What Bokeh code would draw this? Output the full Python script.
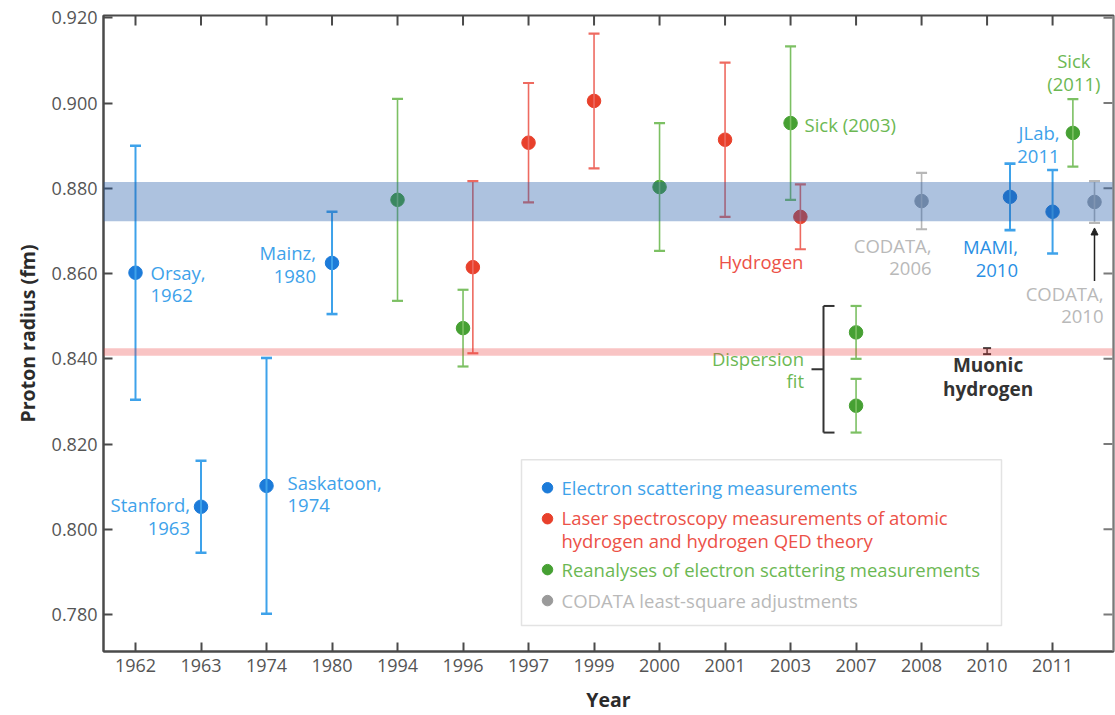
from bokeh.plotting import figure
from bokeh.models import (Range1d, FixedTicker, Whisker, TeeHead, Span,
                          BoxAnnotation, ColumnDataSource, Arrow, NormalHead,
                          PrintfTickFormatter)
from bokeh.embed import file_html
from bokeh.resources import INLINE
from bokeh.core.properties import value

FONT = "Open Sans"

# ---- data ---------------------------------------------------------------
years = ["1962", "1963", "1974", "1980", "1994", "1996", "1997", "1999",
         "2000", "2001", "2003", "2007", "2008", "2010", "2011"]
y_ticks = [0.780, 0.800, 0.820, 0.840, 0.860, 0.880, 0.900, 0.920]

# electron scattering measurements (position on the year axis, radius, error)
es_x = [0, 1, 2, 3, 13.35, 14]
es_r = [0.8602, 0.8053, 0.8102, 0.8625, 0.8780, 0.8745]
es_e = [0.0298, 0.0108, 0.0300, 0.0120, 0.0078, 0.0098]

# laser spectroscopy of atomic hydrogen + QED theory
ls_x = [5.15, 6, 7, 9, 10.15]
ls_r = [0.8615, 0.8907, 0.9005, 0.8914, 0.8733]
ls_e = [0.0202, 0.0140, 0.0158, 0.0181, 0.0076]

# reanalyses of electron scattering data
ra_x = [4, 5, 8, 10, 11, 11, 14.31]
ra_r = [0.8773, 0.8472, 0.8803, 0.8953, 0.8462, 0.8290, 0.8930]
ra_e = [0.0237, 0.0090, 0.0150, 0.0180, 0.0062, 0.0063, 0.0079]

# CODATA least-square adjustments (2006, 2010)
cd_x = [12, 14.64]
cd_r = [0.8770, 0.8768]
cd_e = [0.0066, 0.0049]

# muonic hydrogen
mu_x = [13]
mu_r = [0.8418]
mu_e = [0.0007]

# shaded bands: electron-scattering/CODATA band and muonic band
blue_band = [0.8723, 0.8815]
red_band = [0.8407, 0.8425]

# ---- layout -------------------------------------------------------------
W, H = 1115, 715
FL, FR, FT, FB = 103, 1113, 15, 652
X0, X1 = -0.4885, 14.93
Y0, Y1 = 0.77134, 0.92054


def dx(px):
    return X0 + (px - FL) * (X1 - X0) / (FR - FL)


def dy(py):
    return Y1 - (py - FT) * (Y1 - Y0) / (FB - FT)


p = figure(width=W, height=H, x_range=Range1d(X0, X1), y_range=Range1d(Y0, Y1),
           output_backend="svg", toolbar_location=None,
           min_border_left=FL, min_border_right=W - FR,
           min_border_top=FT, min_border_bottom=H - FB)
AX = "#4a4a4a"
TICK_LBL = "#555555"
p.outline_line_color = AX
p.outline_line_width = 2
p.xgrid.visible = False
p.ygrid.visible = False
p.background_fill_color = "white"

xa = p.xaxis[0]
xa.ticker = FixedTicker(ticks=list(range(len(years))))
xa.major_label_overrides = {i: y for i, y in enumerate(years)}
xa.axis_label = "Year"
ya = p.yaxis[0]
ya.ticker = FixedTicker(ticks=y_ticks)
ya.formatter = PrintfTickFormatter(format="%.3f")
ya.axis_label = "Proton radius (fm)"

for ax in (xa, ya):
    ax.axis_line_color = AX
    ax.axis_line_width = 2
    ax.major_tick_line_color = AX
    ax.major_tick_line_width = 2
    ax.major_tick_in = 9
    ax.major_tick_out = 0
    ax.minor_tick_line_color = None
    ax.major_label_text_font = FONT
    ax.major_label_text_font_size = "18px"
    ax.major_label_text_color = TICK_LBL
    ax.axis_label_text_font = FONT
    ax.axis_label_text_font_size = "19.5px"
    ax.axis_label_text_font_style = "bold"
    ax.axis_label_text_color = "#2b2b2b"
xa.major_label_standoff = 7
xa.axis_label_standoff = 11
ya.major_label_standoff = 6
ya.axis_label_standoff = 8

# lighter right edge of the frame
p.add_layout(Span(location=X1, dimension="height", line_color="#a8a8a8",
                  line_width=2, level="overlay"))

# inward tick marks along the top and right edges
xt = list(range(len(years)))
p.segment(x0=xt, y0=[Y1] * len(xt), x1=xt, y1=[dy(FT + 10)] * len(xt),
          line_color=AX, line_width=2)
p.segment(x0=[X1] * len(y_ticks), y0=y_ticks, x1=[dx(FR - 10)] * len(y_ticks),
          y1=y_ticks, line_color="#7a7a7a", line_width=2)

# ---- points with error bars -----------------------------------------------
groups = [
    (es_x, es_r, es_e, "#1c7bd9", "#3ea2ea", 2.0),
    (ls_x, ls_r, ls_e, "#e8402b", "#ee6a60", 1.6),
    (ra_x, ra_r, ra_e, "#46a033", "#7cc063", 1.6),
    (cd_x, cd_r, cd_e, "#9aa0a8", "#b7b7b7", 1.6),
]
for xs, rs, es, dot_c, bar_c, lw in groups:
    src = ColumnDataSource(dict(x=xs, r=rs,
                                lo=[r - e for r, e in zip(rs, es)],
                                hi=[r + e for r, e in zip(rs, es)]))
    p.add_layout(Whisker(source=src, base="x", lower="lo", upper="hi",
                         dimension="height", line_color=bar_c, line_width=lw,
                         upper_head=TeeHead(size=11, line_color=bar_c, line_width=lw + 0.6),
                         lower_head=TeeHead(size=11, line_color=bar_c, line_width=lw + 0.6),
                         level="glyph"))
    p.scatter("x", "r", source=src, size=13.5, fill_color=dot_c, line_color=dot_c)

mu_src = ColumnDataSource(dict(x=mu_x, lo=[r - e for r, e in zip(mu_r, mu_e)],
                               hi=[r + e for r, e in zip(mu_r, mu_e)]))
p.add_layout(Whisker(source=mu_src, base="x", lower="lo", upper="hi",
                     dimension="height", line_color="#333333", line_width=1.5,
                     upper_head=TeeHead(size=8, line_color="#333333", line_width=2),
                     lower_head=TeeHead(size=8, line_color="#333333", line_width=2),
                     level="glyph"))

# translucent bands drawn over the points
p.add_layout(BoxAnnotation(bottom=blue_band[0], top=blue_band[1],
                           fill_color="#285faa", fill_alpha=0.38, line_color=None))
p.add_layout(BoxAnnotation(bottom=red_band[0], top=red_band[1],
                           fill_color="#eb3c3c", fill_alpha=0.3, line_color=None))

# ---- text notes -----------------------------------------------------------
BLUE_T, RED_T, GREEN_T, GREY_T = "#3ea2ea", "#ec5147", "#6cb853", "#b9b9b9"
FS = "18.5px"
LH = 0.9


def note(xv, yv, txt, color, align, xo, yo, bold=False, size=FS):
    p.text(x=[xv], y=[yv], text=[txt], text_color=color, text_align=align,
           text_baseline="middle", x_offset=xo, y_offset=yo,
           text_font=value(FONT), text_font_size=size,
           text_font_style="bold" if bold else "normal", text_line_height=LH)


note(es_x[0], es_r[0], "Orsay,\n1962", BLUE_T, "left", 15, 11)
note(es_x[1], es_r[1], "Stanford,\n1963", BLUE_T, "right", -11, 9.5)
note(es_x[2], es_r[2], "Saskatoon,\n1974", BLUE_T, "left", 21, 7.5)
note(es_x[3], es_r[3], "Mainz,\n1980", BLUE_T, "right", -16, 1)
note(ra_x[3], ra_r[3], "Sick (2003)", GREEN_T, "left", 14, 1)
note(ls_x[4], ls_r[4], "Hydrogen", RED_T, "right", 3, 45)
note(cd_x[0], cd_r[0], "CODATA,\n2006", GREY_T, "right", 10, 55.5)
note(es_x[4], es_r[4], "MAMI,\n2010", "#2a8fe4", "right", 8, 61)
note(es_x[5], es_r[5], "JLab,\n2011", BLUE_T, "right", 7, -68)
note(ra_x[6], ra_r[6], "Sick\n(2011)", GREEN_T, "center", 1, -61)
note(cd_x[1], cd_r[1], "CODATA,\n2010", GREY_T, "right", 9, 102.5)
note(ra_x[5], ra_r[5], "Dispersion\nfit", GREEN_T, "right", -52, -36)
note(mu_x[0], mu_r[0], "Muonic\nhydrogen", "#333333", "center", 1, 26,
     bold=True, size="19px")

# bracket grouping the two dispersion-fit results
b_top = ra_r[4] + ra_e[4]
b_bot = ra_r[5] - ra_e[5]
b_mid = (b_top + b_bot) / 2
bx = dx(823)
p.segment(x0=[bx, bx, bx, bx], y0=[b_top, b_top, b_bot, b_mid],
          x1=[bx, dx(834), dx(834), dx(811)], y1=[b_bot, b_top, b_bot, b_mid],
          line_color="#333333", line_width=2)

# arrow from the CODATA 2010 note to its point
p.add_layout(Arrow(end=NormalHead(size=7, fill_color="#222222", line_color="#222222"),
                   x_start=cd_x[1], y_start=dy(281), x_end=cd_x[1],
                   y_end=cd_r[1] - cd_e[1] - 0.0012,
                   line_color="#222222", line_width=1.5))

# ---- legend box -------------------------------------------------------------
p.add_layout(BoxAnnotation(left=dx(521), right=dx(1001), top=dy(460), bottom=dy(626),
                           fill_color="white", fill_alpha=1.0,
                           line_color="#a3a3a3", line_width=1.5, level="underlay"))
leg_dot_y = [dy(488), dy(519), dy(570), dy(601)]
leg_dot_c = ["#1c7bd9", "#e8402b", "#46a033", "#9a9a9a"]
p.scatter(x=[dx(547)] * 4, y=leg_dot_y, size=10.5, fill_color=leg_dot_c,
          line_color=leg_dot_c)
leg_text = ["Electron scattering measurements",
            "Laser spectroscopy measurements of atomic\nhydrogen and hydrogen QED theory",
            "Reanalyses of electron scattering measurements",
            "CODATA least-square adjustments"]
leg_text_y = [dy(488), dy(529.5), dy(570), dy(601)]
leg_text_c = [BLUE_T, RED_T, GREEN_T, GREY_T]
for t, yy, c in zip(leg_text, leg_text_y, leg_text_c):
    p.text(x=[dx(561)], y=[yy], text=[t], text_color=c, text_align="left",
           text_baseline="middle", text_font=value(FONT), text_font_size=FS,
           text_line_height=LH)

open("out.html", "w").write(file_html(p, INLINE))
